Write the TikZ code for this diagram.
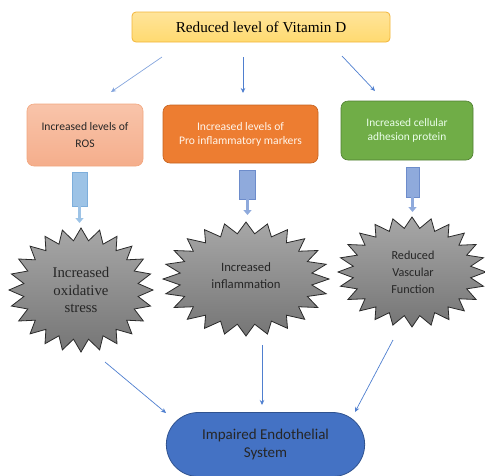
\documentclass[tikz,border=0pt]{standalone}
\usepackage{fontspec}
\setmainfont{Liberation Serif}
\newfontfamily\calfont{Carlito}
\usetikzlibrary{arrows.meta,shapes.misc}
\definecolor{topfill}{HTML}{FFDA70}
\definecolor{topfillb}{HTML}{FFE49A}
\definecolor{topdraw}{HTML}{F2B53A}
\definecolor{rosfill}{HTML}{F5AE8C}
\definecolor{rosfillb}{HTML}{F8C4AA}
\definecolor{rosdraw}{HTML}{F2A77F}
\definecolor{profill}{HTML}{ED7D31}
\definecolor{prodraw}{HTML}{C4621F}
\definecolor{adhfill}{HTML}{70AD47}
\definecolor{adhdraw}{HTML}{507E32}
\definecolor{linecol}{HTML}{4F7FCF}
\definecolor{shaftA}{HTML}{9DC3E6}
\definecolor{shaftAd}{HTML}{7DAEDB}
\definecolor{shaftB}{HTML}{8FAADC}
\definecolor{shaftBd}{HTML}{6D8CCB}
\definecolor{starfill}{HTML}{8A8A8A}
\definecolor{stardraw}{HTML}{2A2A2A}
\definecolor{endofill}{HTML}{4472C4}
\definecolor{endodraw}{HTML}{2F528F}
\definecolor{txtdark}{HTML}{262626}
\newcommand\drawstar[4]{%
  \draw[stardraw, line width=0.8pt, top color=starfill!75!white, bottom color=starfill!85!black]
    ({#1+#3*cos(-90)},{#2+#4*sin(-90)})
    \foreach \i in {1,...,47} { -- ({#1+#3*(1-0.2*mod(\i,2))*cos(-90+\i*7.5)},{#2+#4*(1-0.2*mod(\i,2))*sin(-90+\i*7.5)}) } -- cycle;}
\begin{document}
\begin{tikzpicture}[x=1pt,y=-1pt,
  conn/.style={draw=linecol, line width=0.7pt, -{Stealth[length=5pt,width=4.5pt]}},
  boxstyle/.style={rounded corners=7pt, align=center, inner sep=2pt},
  shaft/.style={minimum width=#1, minimum height=1pt, inner sep=0pt},
  startext/.style={align=center, text=txtdark}
]
\useasboundingbox (0,0) rectangle (485,475);

% top box
\node[boxstyle, rounded corners=4pt, minimum width=258pt, minimum height=30pt,
  top color=topfillb, bottom color=topfill, draw=topdraw, line width=0.8pt,
  font=\fontsize{15.2}{17}\selectfont, text=black] (top) at (261,27) {Reduced level of Vitamin D};

% second row boxes
\node[boxstyle, minimum width=116pt, minimum height=62pt, top color=rosfillb, bottom color=rosfill,
  draw=rosdraw, line width=0.6pt, font=\calfont\fontsize{11.6}{16.5}\selectfont, text=txtdark]
  (ros) at (85,135) {Increased levels of\\ROS};
\node[boxstyle, minimum width=155pt, minimum height=58pt, fill=profill,
  draw=prodraw, line width=0.6pt, font=\calfont\fontsize{11.6}{14}\selectfont, text=white!92!orange]
  (pro) at (240.5,134) {Increased levels of\\Pro inflammatory markers};
\node[boxstyle, minimum width=132pt, minimum height=59pt, fill=adhfill,
  draw=adhdraw, line width=0.6pt, font=\calfont\fontsize{11.4}{14}\selectfont, text=white!92!green]
  (adh) at (407,130.5) {Increased cellular\\adhesion protein};

% arrows from top
\coordinate (t1) at (162,57);
\coordinate (t2) at (243,57);
\coordinate (t3) at (342,56);
\coordinate (e1) at (111,92);
\coordinate (e2) at (243,93);
\coordinate (e3) at (375,91);
\draw[conn, draw=linecol!70!white] (t1) -- (e1);
\draw[conn] (t2) -- (e2);
\draw[conn] (t3) -- (e3);

% starbursts
\drawstar{81}{290}{72}{62}
\drawstar{246}{279}{83}{57}
\drawstar{412}{272}{74}{55}
\node[startext, font=\fontsize{14.8}{17.5}\selectfont] (ox) at (81,290) {Increased\\oxidative\\stress};
\node[startext, font=\calfont\fontsize{12.7}{17}\selectfont] (inf) at (246,275.5) {Increased\\inflammation};
\node[startext, font=\calfont\fontsize{12.2}{17}\selectfont] (vas) at (413,272.5) {Reduced\\Vascular\\Function};

% block arrows
\node[shaft=15pt, minimum height=34pt, fill=shaftA, draw=shaftAd, line width=0.5pt] (s1) at (79.5,189) {};
\node[shaft=16pt, minimum height=29pt, fill=shaftB, draw=shaftBd, line width=0.5pt] (s2) at (247.5,184.5) {};
\node[shaft=13pt, minimum height=30pt, fill=shaftB, draw=shaftBd, line width=0.5pt] (s3) at (412.5,182) {};
\coordinate (b1) at (79.5,223);
\coordinate (b2) at (247.5,215);
\coordinate (b3) at (412.5,212);
\draw[draw=shaftA, line width=2.2pt, -{Triangle[length=5pt,width=8pt]}] (s1.south) -- (b1);
\draw[draw=shaftB, line width=2.2pt, -{Triangle[length=5pt,width=8pt]}] (s2.south) -- (b2);
\draw[draw=shaftB, line width=2.2pt, -{Triangle[length=5pt,width=8pt]}] (s3.south) -- (b3);

% bottom
\node[rounded rectangle, minimum width=205pt, minimum height=64pt, fill=endofill, draw=endodraw,
  line width=0.8pt, align=center, font=\calfont\fontsize{15}{18}\selectfont, text=txtdark]
  (endo) at (265.5,444.5) {Impaired Endothelial\\System};
\coordinate (u1) at (105,362);
\coordinate (u2) at (262,345);
\coordinate (u3) at (393,340);
\coordinate (v1) at (166,413);
\coordinate (v2) at (262,405);
\coordinate (v3) at (355,412);
\draw[conn] (u1) -- (v1);
\draw[conn] (u2) -- (v2);
\draw[conn] (u3) -- (v3);
\end{tikzpicture}
\end{document}
